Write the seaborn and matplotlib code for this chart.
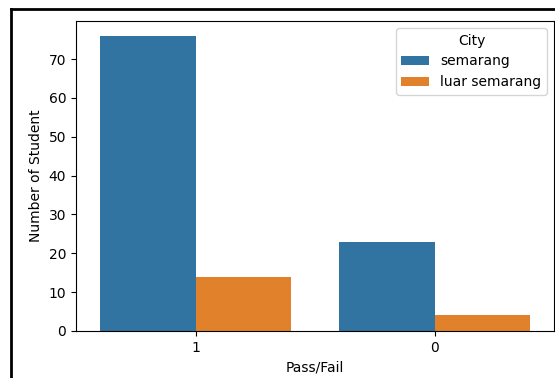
import pandas as pd
import seaborn as sns
import matplotlib as mpl
mpl.use('Agg')
import matplotlib.pyplot as plt
from matplotlib.lines import Line2D

pass_fail = ['1', '1', '0', '0']
city = ['semarang', 'luar semarang', 'semarang', 'luar semarang']
counts = [76, 14, 23, 4]

df = pd.DataFrame({'Pass/Fail': pass_fail, 'City': city, 'count': counts})

fig = plt.figure(figsize=(5.55, 3.78), dpi=100)
ax = fig.add_axes([76/555, 1-331/378, (554-76)/555, (331-21)/378])
sns.barplot(data=df, x='Pass/Fail', y='count', hue='City', ax=ax,
            palette=['#3274a1', '#e1812c'], saturation=1)
ax.set_ylabel('Number of Student')
ax.set_xlabel('Pass/Fail')
ax.legend(title='City', loc='upper right')

# screenshot frame
fig.add_artist(Line2D([11/555, 11/555], [0, 1-9/378], color='black', lw=2, transform=fig.transFigure))
fig.add_artist(Line2D([11/555, 1], [1-9/378, 1-9/378], color='black', lw=2, transform=fig.transFigure))

plt.savefig('out.png', dpi=100)
